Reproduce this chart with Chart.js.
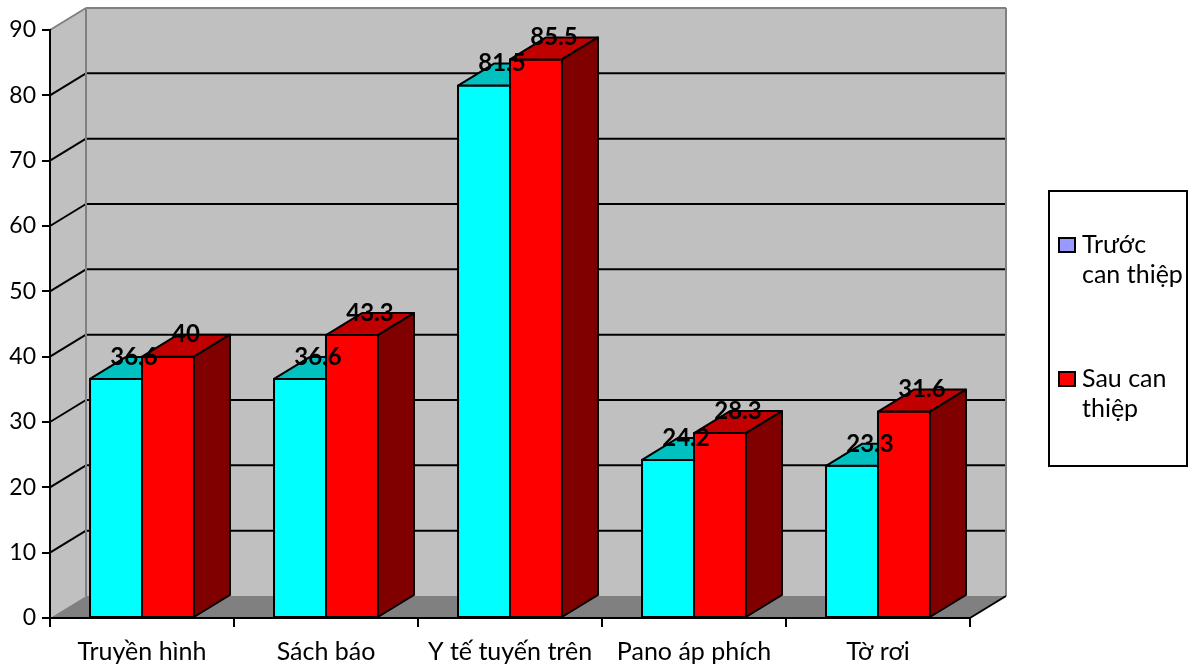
<!DOCTYPE html>
<html>
<head>
<meta charset="utf-8">
<script src="https://cdn.jsdelivr.net/npm/chart.js@4/dist/chart.umd.min.js"></script>
<style>
html,body{margin:0;padding:0;background:#fff;}
#wrap{width:1195px;height:665px;position:relative;}
</style>
</head>
<body>
<div id="wrap"><canvas id="c" width="1195" height="665"></canvas></div>
<script>
const categories = ['Truyền hình', 'Sách báo', 'Y tế tuyến trên', 'Pano áp phích', 'Tờ rơi'];
const seriesNames = ['Trước can thiệp', 'Sau can thiệp'];
const truocCanThiep = [36.6, 36.6, 81.5, 24.2, 23.3];
const sauCanThiep = [40, 43.3, 85.5, 28.3, 31.6];
const yTicks = [0, 10, 20, 30, 40, 50, 60, 70, 80, 90];
const legendLines = [['Trước', 'can thiệp'], ['Sau can', 'thiệp']];

const FONT = 'Lato, "Open Sans", sans-serif';
const DX = 36, DY = -22;
const faceColors = [
  {front: '#00FFFF', top: '#00C0C0', side: '#008080', legend: '#9999FF'},
  {front: '#FF0000', top: '#C00000', side: '#800000', legend: '#FF0000'}
];

function poly(ctx, pts) {
  ctx.beginPath();
  ctx.moveTo(pts[0][0], pts[0][1]);
  for (let i = 1; i < pts.length; i++) ctx.lineTo(pts[i][0], pts[i][1]);
  ctx.closePath();
}
function seg(ctx, x1, y1, x2, y2) {
  ctx.beginPath(); ctx.moveTo(x1, y1); ctx.lineTo(x2, y2); ctx.stroke();
}

const threeD = {
  id: 'threeD',
  beforeDraw(chart) {
    const ctx = chart.ctx, a = chart.chartArea, ys = chart.scales.y;
    const L = a.left, R = a.right, T = a.top, B = a.bottom;
    ctx.save();
    ctx.fillStyle = '#C0C0C0';
    poly(ctx, [[L + DX, T + DY], [R + DX, T + DY], [R + DX, B + DY], [L + DX, B + DY]]); ctx.fill();
    poly(ctx, [[L, T], [L + DX, T + DY], [L + DX, B + DY], [L, B]]); ctx.fill();
    ctx.fillStyle = '#808080';
    poly(ctx, [[L, B], [R, B], [R + DX, B + DY], [L + DX, B + DY]]); ctx.fill();
    ctx.lineWidth = 2;
    ctx.strokeStyle = '#000';
    yTicks.forEach(v => {
      if (v === yTicks[0] || v === yTicks[yTicks.length - 1]) return;
      const y = ys.getPixelForValue(v);
      seg(ctx, L, y, L + DX, y + DY);
      seg(ctx, L + DX, y + DY, R + DX, y + DY);
    });
    ctx.strokeStyle = '#808080';
    seg(ctx, L, T, L + DX, T + DY);
    seg(ctx, L + DX, T + DY, R + DX, T + DY);
    seg(ctx, L + DX, T + DY, L + DX, B + DY);
    seg(ctx, R + DX, T + DY, R + DX, B + DY);
    ctx.strokeStyle = '#000';
    seg(ctx, R, B, R + DX, B + DY);
    ctx.restore();
  },
  beforeDatasetsDraw(chart) {
    const ctx = chart.ctx;
    ctx.save();
    ctx.lineWidth = 2;
    ctx.strokeStyle = '#000';
    ctx.lineJoin = 'round';
    for (let d = 0; d < chart.data.datasets.length; d++) {
      const meta = chart.getDatasetMeta(d);
      const c = faceColors[d];
      meta.data.forEach(el => {
        const x0 = el.x - el.width / 2, x1 = el.x + el.width / 2, yt = el.y, yb = el.base;
        ctx.fillStyle = c.front;
        poly(ctx, [[x0, yt], [x1, yt], [x1, yb], [x0, yb]]); ctx.fill(); ctx.stroke();
        ctx.fillStyle = c.top;
        poly(ctx, [[x0, yt], [x1, yt], [x1 + DX, yt + DY], [x0 + DX, yt + DY]]); ctx.fill(); ctx.stroke();
        ctx.fillStyle = c.side;
        poly(ctx, [[x1, yt], [x1 + DX, yt + DY], [x1 + DX, yb + DY], [x1, yb]]); ctx.fill(); ctx.stroke();
      });
    }
    ctx.restore();
    return false;
  },
  afterDraw(chart) {
    const ctx = chart.ctx;
    ctx.save();
    // data labels
    ctx.font = 'bold 24px ' + FONT;
    ctx.fillStyle = '#000';
    ctx.textAlign = 'center';
    ctx.textBaseline = 'middle';
    for (let d = 0; d < chart.data.datasets.length; d++) {
      const meta = chart.getDatasetMeta(d);
      const vals = chart.data.datasets[d].data;
      meta.data.forEach((el, i) => {
        ctx.fillText(String(vals[i]), el.x + DX / 2, el.y + DY / 2 - 11);
      });
    }
    // legend
    const bx = 1049, by = 191, bw = 138, bh = 275;
    ctx.fillStyle = '#fff';
    ctx.fillRect(bx, by, bw, bh);
    ctx.lineWidth = 2;
    ctx.strokeStyle = '#000';
    ctx.strokeRect(bx, by, bw, bh);
    const itemTop = [238, 372];
    ctx.font = '25px ' + FONT;
    ctx.textAlign = 'left';
    ctx.textBaseline = 'alphabetic';
    legendLines.forEach((lines, k) => {
      ctx.fillStyle = faceColors[k].legend;
      ctx.fillRect(1059, itemTop[k], 16, 14);
      ctx.strokeRect(1059, itemTop[k], 16, 14);
      ctx.fillStyle = '#000';
      lines.forEach((t, j) => ctx.fillText(t, 1082, itemTop[k] + 15 + j * 30));
    });
    ctx.restore();
  }
};

new Chart(document.getElementById('c'), {
  type: 'bar',
  data: {
    labels: categories,
    datasets: [
      {label: seriesNames[0], data: truocCanThiep, backgroundColor: faceColors[0].front},
      {label: seriesNames[1], data: sauCanThiep, backgroundColor: faceColors[1].front}
    ]
  },
  options: {
    responsive: false,
    animation: false,
    devicePixelRatio: 1,
    layout: {padding: {top: 30, right: 225, bottom: 0, left: 0}},
    datasets: {bar: {categoryPercentage: 0.565, barPercentage: 1}},
    plugins: {legend: {display: false}, tooltip: {enabled: false}},
    scales: {
      x: {
        type: 'category',
        afterFit: s => { s.height = 47; },
        grid: {offset: true, drawOnChartArea: false, tickLength: 9, color: '#000', lineWidth: 2},
        border: {color: '#000', width: 2},
        ticks: {font: {family: FONT, size: 25}, color: '#000', padding: 10, maxRotation: 0, autoSkip: false}
      },
      y: {
        min: yTicks[0], max: yTicks[yTicks.length - 1],
        afterFit: s => { s.width = 50; },
        afterBuildTicks: s => { s.ticks = yTicks.map(v => ({value: v})); },
        grid: {drawOnChartArea: false, tickLength: 8, color: '#000', lineWidth: 2},
        border: {color: '#000', width: 2},
        ticks: {font: {family: FONT, size: 23}, color: '#000', padding: 6}
      }
    }
  },
  plugins: [threeD]
});
</script>
</body>
</html>
